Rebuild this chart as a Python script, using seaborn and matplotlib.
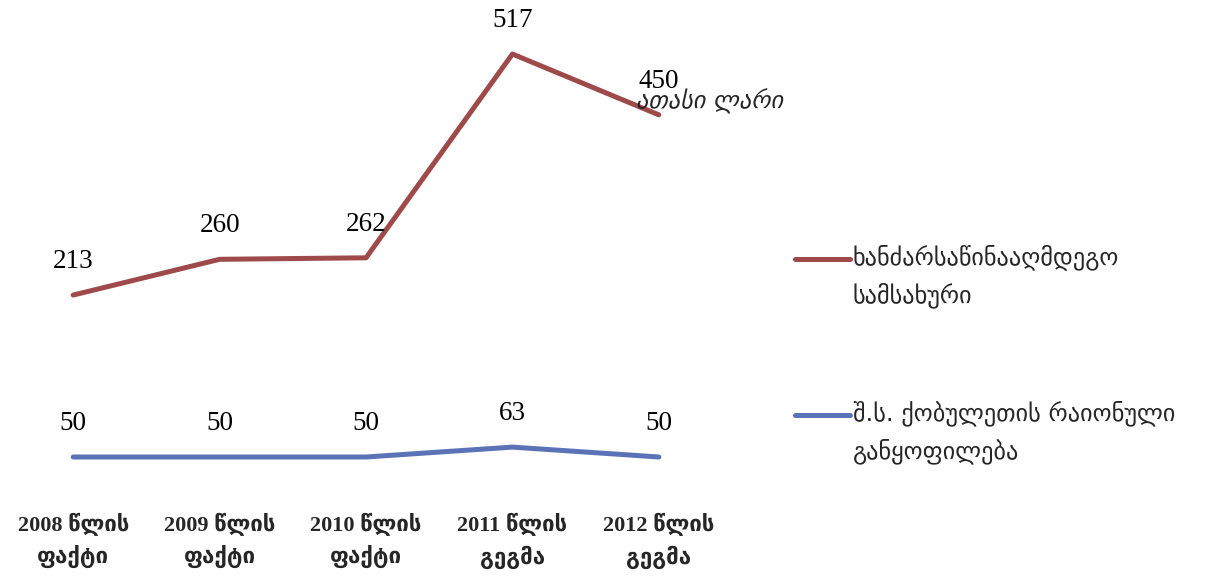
import numpy as np
import pandas as pd
import matplotlib
matplotlib.use('Agg')
import matplotlib.pyplot as plt
import seaborn as sns
from matplotlib.lines import Line2D

# ------------------------------------------------------------------
# data
# ------------------------------------------------------------------
categories = ['2008 წლის\nფაქტი', '2009 წლის\nფაქტი', '2010 წლის\nფაქტი',
              '2011 წლის\nგეგმა', '2012 წლის\nგეგმა']
series_names = ['შ.ს. ქობულეთის რაიონული\nგანყოფილება',
                'ხანძარსაწინააღმდეგო\nსამსახური']
police = [50, 50, 50, 63, 50]
fire = [213, 260, 262, 517, 450]
colors = ['#5B73B6', '#9E4A4A']
unit_note = 'ათასი ლარი'

# stacked line chart: second series sits on top of the first
values = np.array([police, fire])
stacked = values.cumsum(axis=0)

rows = []
for s, name in enumerate(series_names):
    for i, cat in enumerate(categories):
        rows.append({'cat': i, 'y': stacked[s, i], 'val': values[s, i], 'series': name})
df = pd.DataFrame(rows)

sns.set_theme(style='white')
num_font = ['Liberation Serif', 'DejaVu Sans']
geo_font = ['DejaVu Sans']

fig = plt.figure(figsize=(12.09, 5.76), dpi=100)
ax = fig.add_axes([0.0, 0.1406, 0.6055, 0.792])

sns.lineplot(data=df, x='cat', y='y', hue='series', palette=colors,
             hue_order=series_names, linewidth=3.6, ax=ax,
             solid_capstyle='round', legend=False)

# data labels
for _, r in df.iterrows():
    ax.annotate(f"{r['val']}", (r['cat'], r['y']), xytext=(0, 24),
                textcoords='offset points', ha='center', va='center',
                fontsize=19.5, family=num_font, color='black')

ax.set_xlim(-0.5, len(categories) - 0.5)
ax.set_ylim(0, 600)
ax.set_xticks(range(len(categories)))
ax.set_xticklabels(categories, fontsize=16, fontweight='bold',
                   family=num_font, linespacing=1.5)
ax.tick_params(axis='x', length=0, pad=13)
ax.set_yticks([])
ax.set_xlabel('')
ax.set_ylabel('')
for sp in ax.spines.values():
    sp.set_visible(False)

# unit annotation
fig.text(636 / 1209, 1 - 101 / 576, unit_note, fontsize=17.5, style='italic',
         family=geo_font, ha='left', va='center')

# legend (fire first, then police)
handles = [Line2D([], [], color=colors[1], linewidth=3.6, solid_capstyle='round'),
           Line2D([], [], color=colors[0], linewidth=3.6, solid_capstyle='round')]
leg = fig.legend(handles, [series_names[1], series_names[0]],
                 loc='upper left', bbox_to_anchor=(783 / 1209, 1 - 232 / 576),
                 frameon=False, handlelength=2.26,
                 handletextpad=0.1, labelspacing=3.78, borderpad=0,
                 prop={'family': geo_font, 'size': 17.5})
for t in leg.get_texts():
    t.set_linespacing(1.64)
# put the handle beside the first line of each label
for ln in leg.get_lines():
    ln.set_ydata(np.asarray(ln.get_ydata()) + 13.3)

fig.savefig('out.png', dpi=100)
